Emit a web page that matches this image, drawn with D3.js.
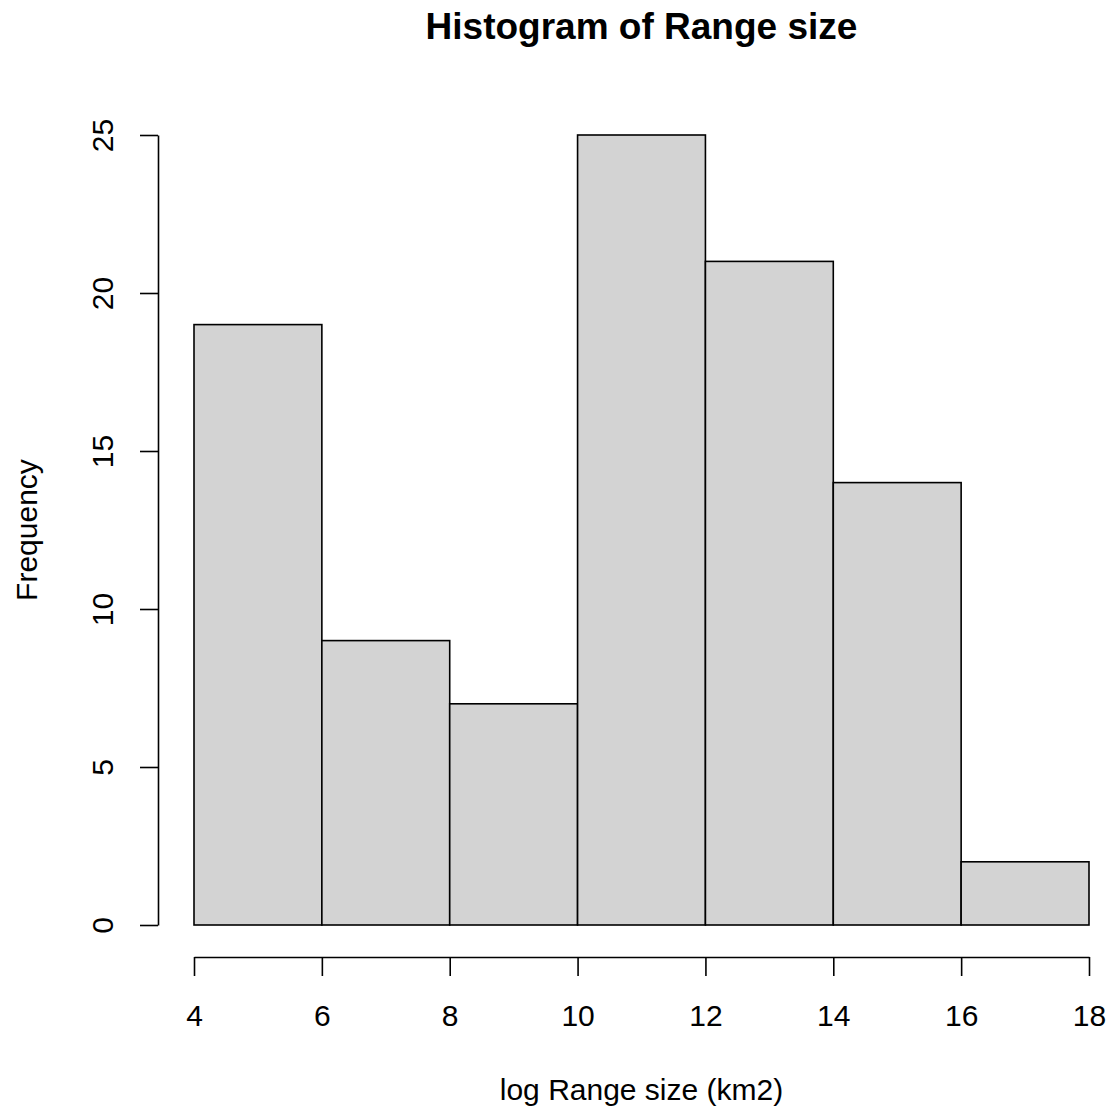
<!DOCTYPE html>
<html>
<head>
<meta charset="utf-8">
<script src="https://cdn.jsdelivr.net/npm/d3@7"></script>
<style>
  html, body { margin: 0; padding: 0; background: #fff; }
  svg { display: block; }
  text { font-family: "Liberation Sans", Arial, sans-serif; fill: #000; }
</style>
</head>
<body>
<svg id="chart" width="1112" height="1114"></svg>
<script>
// Histogram bins (break edges) and their counts
const breaks = [4, 6, 8, 10, 12, 14, 16, 18];
const counts = [19, 9, 7, 25, 21, 14, 2];
const xTicks = [4, 6, 8, 10, 12, 14, 16, 18];
const yTicks = [0, 5, 10, 15, 20, 25];

const titleText = "Histogram of Range size";
const xLabel = "log Range size (km2)";
const yLabel = "Frequency";

const bins = counts.map((c, i) => ({ x0: breaks[i], x1: breaks[i + 1], count: c }));

const svg = d3.select("#chart");

const x = d3.scaleLinear().domain([4, 18]).range([194, 1089]);
const y = d3.scaleLinear().domain([0, 25]).range([925, 135]);

const axisX = 957;   // vertical position of the x axis line
const axisY = 158;   // horizontal position of the y axis line

// Bars
svg.append("g")
  .selectAll("rect")
  .data(bins)
  .join("rect")
  .attr("x", d => x(d.x0))
  .attr("y", d => y(d.count))
  .attr("width", d => x(d.x1) - x(d.x0))
  .attr("height", d => y(0) - y(d.count))
  .attr("fill", "#d3d3d3")
  .attr("stroke", "#000")
  .attr("stroke-width", 1.6);

// X axis
const gx = svg.append("g")
  .attr("transform", `translate(0,${axisX})`)
  .call(d3.axisBottom(x).tickValues(xTicks).tickSize(19).tickSizeOuter(0).tickFormat(d3.format("d")));
gx.selectAll("path, line").attr("stroke", "#000").attr("stroke-width", 1.6);
gx.selectAll("text")
  .attr("y", 69)
  .attr("dy", null)
  .style("font-family", '"Liberation Sans", Arial, sans-serif')
  .style("font-size", "30px")
  .attr("fill", "#000");

// Y axis
const gy = svg.append("g")
  .attr("transform", `translate(${axisY},0)`)
  .call(d3.axisLeft(y).tickValues(yTicks).tickSize(18).tickSizeOuter(0).tickFormat(d3.format("d")));
gy.selectAll("path, line").attr("stroke", "#000").attr("stroke-width", 1.6);
gy.selectAll("text")
  .attr("x", null)
  .attr("dy", null)
  .attr("text-anchor", "middle")
  .attr("transform", "translate(-45,0) rotate(-90)")
  .style("font-family", '"Liberation Sans", Arial, sans-serif')
  .style("font-size", "30px")
  .attr("fill", "#000");
gy.attr("font-family", null).attr("font-size", null);
gx.attr("font-family", null).attr("font-size", null);

// Title
svg.append("text")
  .attr("x", (x(4) + x(18)) / 2)
  .attr("y", 39)
  .attr("text-anchor", "middle")
  .style("font-size", "37px")
  .style("font-weight", "bold")
  .text(titleText);

// Axis titles
svg.append("text")
  .attr("x", (x(4) + x(18)) / 2)
  .attr("y", 1100)
  .attr("text-anchor", "middle")
  .style("font-size", "30px")
  .text(xLabel);

svg.append("text")
  .attr("transform", `translate(37,${(y(0) + y(25)) / 2}) rotate(-90)`)
  .attr("text-anchor", "middle")
  .style("font-size", "30px")
  .text(yLabel);
</script>
</body>
</html>
